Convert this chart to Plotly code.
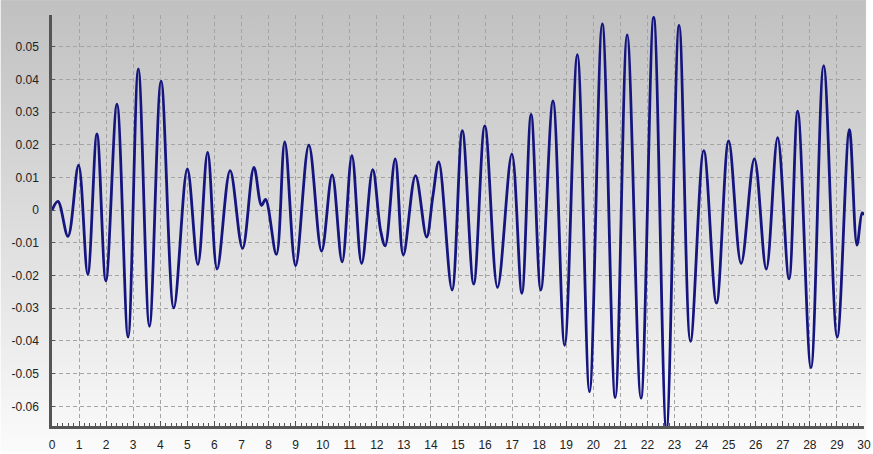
import base64
import plotly.graph_objects as go

# Waveform turning points: time (s) and amplitude
time_s = [
    0.00, 0.22, 0.59, 0.98, 1.32, 1.66, 1.99, 2.40, 2.81, 3.19, 3.60, 4.03, 4.50,
    5.00, 5.39, 5.75, 6.10, 6.58, 7.04, 7.46, 7.74, 7.89, 8.29, 8.60, 9.00, 9.49,
    9.96, 10.35, 10.72, 11.08, 11.44, 11.85, 12.14, 12.31, 12.68, 12.98, 13.43,
    13.84, 14.07, 14.29, 14.78, 15.16, 15.58, 15.99, 16.46, 16.99, 17.36, 17.70,
    18.06, 18.51, 18.94, 19.41, 19.86, 20.33, 20.81, 21.25, 21.76, 22.23, 22.70,
    23.17, 23.59, 24.08, 24.55, 25.00, 25.46, 25.95, 26.39, 26.81, 27.23, 27.55,
    28.04, 28.51, 29.01, 29.46, 29.74, 29.93, 30.00,
]
amplitude = [
    0.0000, 0.0027, -0.0080, 0.0138, -0.0196, 0.0233, -0.0216, 0.0324, -0.0388,
    0.0432, -0.0355, 0.0395, -0.0299, 0.0126, -0.0166, 0.0177, -0.0180, 0.0121,
    -0.0117, 0.0131, 0.0015, 0.0033, -0.0135, 0.0209, -0.0170, 0.0199, -0.0125,
    0.0108, -0.0158, 0.0167, -0.0163, 0.0124, -0.0062, -0.0109, 0.0157, -0.0137,
    0.0106, -0.0082, 0.0042, 0.0148, -0.0244, 0.0243, -0.0226, 0.0258, -0.0236,
    0.0172, -0.0254, 0.0293, -0.0244, 0.0334, -0.0413, 0.0476, -0.0555, 0.0570,
    -0.0573, 0.0536, -0.0575, 0.0590, -0.0670, 0.0565, -0.0401, 0.0182, -0.0284,
    0.0212, -0.0163, 0.0157, -0.0180, 0.0222, -0.0210, 0.0303, -0.0482, 0.0442,
    -0.0388, 0.0246, -0.0107, -0.0008, -0.0015,
]

x_ticks = list(range(0, 31))
y_ticks = [-0.06, -0.05, -0.04, -0.03, -0.02, -0.01, 0.0, 0.01, 0.02, 0.03, 0.04, 0.05]
y_tick_text = ["-0.06", "-0.05", "-0.04", "-0.03", "-0.02", "-0.01", "0",
               "0.01", "0.02", "0.03", "0.04", "0.05"]

W, H = 873, 454
ML, MR, MT, MB = 52, 2, 15, 26
PW, PH = W - ML - MR, H - MT - MB

# vertical grey-to-white background gradient
svg = (
    '<svg xmlns="http://www.w3.org/2000/svg" width="100" height="100" preserveAspectRatio="none">'
    '<defs><linearGradient id="g" x1="0" y1="0" x2="0" y2="1">'
    '<stop offset="0" stop-color="#c0c0c0"/>'
    '<stop offset="0.5" stop-color="#dddddd"/>'
    '<stop offset="1" stop-color="#fbfbfb"/>'
    '</linearGradient></defs>'
    '<rect width="100" height="100" fill="url(#g)"/></svg>'
)
bg_src = "data:image/svg+xml;base64," + base64.b64encode(svg.encode()).decode()

fig = go.Figure()
fig.add_trace(go.Scatter(
    x=time_s, y=amplitude, mode="lines",
    line=dict(color="#15157f", width=2.8, shape="spline", smoothing=1.0),
    hoverinfo="skip", showlegend=False,
))

axis_font = dict(family="Liberation Sans, Arial, sans-serif", size=12, color="#222222")
grid_dash = "4px,3px"

fig.update_layout(
    width=W, height=H,
    margin=dict(l=ML, r=MR, t=MT, b=MB, pad=0),
    paper_bgcolor="rgba(0,0,0,0)",
    plot_bgcolor="rgba(0,0,0,0)",
    images=[dict(
        source=bg_src, xref="paper", yref="paper",
        x=-ML / PW, y=1 + MT / PH, sizex=W / PW, sizey=H / PH,
        xanchor="left", yanchor="top", sizing="stretch", layer="below",
    )],
    xaxis=dict(
        range=[0, 30], tickvals=x_ticks, ticktext=[str(v) for v in x_ticks],
        showgrid=True, gridcolor="#a4a4a4", griddash=grid_dash, gridwidth=1,
        showline=True, linecolor="#555555", linewidth=2.5,
        ticks="inside", ticklen=5, tickcolor="#555555",
        minor=dict(dtick=0.2, ticks="inside", ticklen=3, tickcolor="#555555", showgrid=False),
        tickfont=axis_font, ticklabelstandoff=6, ticklabeloverflow="allow",
        zeroline=False, fixedrange=True,
    ),
    yaxis=dict(
        range=[-0.066, 0.0597], tickvals=y_ticks, ticktext=y_tick_text,
        showgrid=True, gridcolor="#a4a4a4", griddash=grid_dash, gridwidth=1,
        showline=True, linecolor="#555555", linewidth=2.5,
        ticks="inside", ticklen=3, tickcolor="#555555",
        tickfont=axis_font, ticklabelstandoff=8,
        zeroline=False, fixedrange=True,
    ),
)

fig.write_html("out.html")
